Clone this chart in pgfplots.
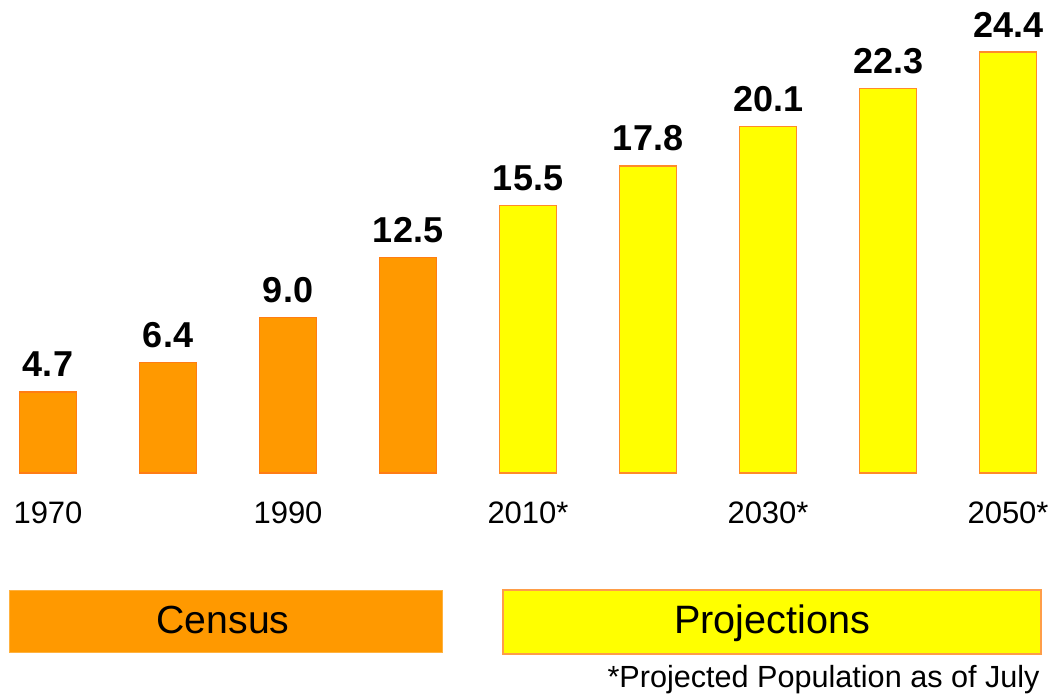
\documentclass[border=0pt]{standalone}
\usepackage{pgfplots}
\pgfplotsset{compat=1.18}
\usepackage{fontspec}
\setmainfont{Liberation Sans}
\definecolor{census}{RGB}{255,153,0}
\definecolor{censusedge}{RGB}{255,125,20}
\definecolor{proj}{RGB}{255,255,0}
\definecolor{projedge}{RGB}{255,140,40}
\begin{document}
\begin{tikzpicture}
\begin{axis}[
  at={(0pt,111.5pt)}, anchor=south west,
  scale only axis, width=527pt, height=236.5pt,
  xmin=-0.4, xmax=8.383, ymin=0, ymax=27.42,
  axis line style={draw=none}, tick style={draw=none},
  ytick=\empty,
  xtick={0,2,4,6,8},
  xticklabels={1970,1990,2010*,2030*,2050*},
  xticklabel style={anchor=base, yshift=-21pt, inner sep=0pt, font=\fontsize{15.5}{18}\selectfont},
  /pgf/number format/assume math mode=true,
  ybar, bar width=28.5pt,
  clip=false,
  nodes near coords={\pgfmathprintnumber[fixed,fixed zerofill,precision=1]{\pgfplotspointmeta}},
  nodes near coords style={anchor=base, inner sep=0pt, yshift=7.5pt, font=\bfseries\fontsize{18}{21}\selectfont, text=black},
]
\addplot[bar shift=0pt, fill=census, draw=censusedge, line width=0.6pt] coordinates {(0,4.7) (1,6.4) (2,9.0) (3,12.5)};
\addplot[bar shift=0pt, fill=proj, draw=projedge, line width=0.6pt] coordinates {(4,15.5) (5,17.8) (6,20.1) (7,22.3) (8,24.4)};
\end{axis}
\begin{scope}[x=0.5pt, y=-0.5pt, shift={(0pt,348pt)}]
\draw[fill=census, draw=census!75!white, line width=0.5pt] (9,590) rectangle (442,652);
\node[anchor=base, inner sep=0pt, font=\fontsize{19.6}{24}\selectfont] at (223,634) {Census};
\draw[fill=proj, draw=projedge!85!white, line width=0.9pt] (503,590) rectangle (1041,654);
\node[anchor=base, inner sep=0pt, font=\fontsize{19.8}{24}\selectfont] at (772,634) {Projections};
\node[anchor=base east, inner sep=0pt, font=\fontsize{15.3}{18}\selectfont] at (1040,687) {*Projected Population as of July};
\end{scope}
\pgfresetboundingbox
\path (0pt,0pt) rectangle (527pt,348pt);
\end{tikzpicture}
\end{document}
